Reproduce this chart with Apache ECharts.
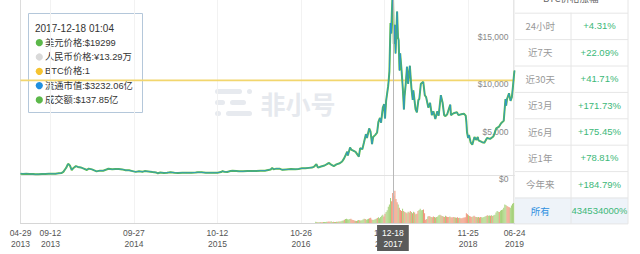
<!DOCTYPE html>
<html><head><meta charset="utf-8">
<script src="https://cdn.jsdelivr.net/npm/echarts@6/dist/echarts.min.js"></script>
<style>html,body{margin:0;padding:0;background:#fff}#c{width:640px;height:254px}</style>
</head><body><div id="c"></div>
<script>
// ---------- DATA ----------
const priceDates = [
'2013-04-29','2013-05-10','2013-05-25','2013-06-10','2013-06-25','2013-07-06','2013-07-20','2013-08-05','2013-08-20','2013-09-05',
'2013-09-20','2013-10-05','2013-10-20','2013-11-01','2013-11-10','2013-11-18','2013-11-24','2013-11-30','2013-12-04','2013-12-10',
'2013-12-18','2013-12-26','2014-01-06','2014-01-15','2014-01-28','2014-02-08','2014-02-25','2014-03-05','2014-03-20','2014-04-10',
'2014-04-25','2014-05-10','2014-05-25','2014-06-03','2014-06-20','2014-07-05','2014-07-20','2014-08-05','2014-08-20','2014-09-05',
'2014-09-20','2014-10-05','2014-10-20','2014-11-05','2014-11-15','2014-12-01','2014-12-20','2015-01-05','2015-01-14','2015-01-25',
'2015-02-10','2015-02-25','2015-03-12','2015-03-30','2015-04-15','2015-05-05','2015-05-25','2015-06-15','2015-07-05','2015-07-15',
'2015-08-01','2015-08-20','2015-09-05','2015-09-25','2015-10-12','2015-10-28','2015-11-04','2015-11-12','2015-11-25','2015-12-10',
'2015-12-20','2016-01-05','2016-01-18','2016-02-05','2016-02-25','2016-03-15','2016-04-05','2016-04-25','2016-05-15','2016-05-30',
'2016-06-10','2016-06-17','2016-06-23','2016-07-05','2016-07-20','2016-08-02','2016-08-20','2016-09-10','2016-09-30','2016-10-15',
'2016-10-30','2016-11-15','2016-12-01','2016-12-15','2016-12-25','2017-01-04','2017-01-11','2017-01-25','2017-02-10','2017-02-23',
'2017-03-03','2017-03-10','2017-03-24','2017-04-05','2017-04-20','2017-05-01','2017-05-10','2017-05-24','2017-05-27','2017-06-06',
'2017-06-12','2017-06-18','2017-07-01','2017-07-16','2017-07-22','2017-08-01','2017-08-08','2017-08-17','2017-08-22','2017-09-01',
'2017-09-07','2017-09-14','2017-09-19','2017-09-28','2017-10-07','2017-10-13','2017-10-20','2017-10-25','2017-11-02','2017-11-08',
'2017-11-12','2017-11-17','2017-11-26','2017-11-29','2017-12-02','2017-12-07','2017-12-10','2017-12-13','2017-12-17','2017-12-18',
'2017-12-22','2017-12-26','2017-12-30','2018-01-06','2018-01-10','2018-01-13','2018-01-17','2018-01-20','2018-01-26','2018-02-01',
'2018-02-06','2018-02-09','2018-02-14','2018-02-20','2018-02-25','2018-03-05','2018-03-12','2018-03-18','2018-03-21','2018-03-31',
'2018-04-06','2018-04-13','2018-04-17','2018-04-24','2018-05-05','2018-05-12','2018-05-18','2018-05-28','2018-06-05','2018-06-13',
'2018-06-20','2018-06-29','2018-07-08','2018-07-14','2018-07-24','2018-08-01','2018-08-08','2018-08-14','2018-08-22','2018-08-30',
'2018-09-05','2018-09-08','2018-09-20','2018-10-05','2018-10-12','2018-10-25','2018-11-06','2018-11-14','2018-11-17','2018-11-20',
'2018-11-25','2018-11-29','2018-12-07','2018-12-14','2018-12-24','2018-12-31','2019-01-08','2019-01-11','2019-01-28','2019-02-07',
'2019-02-19','2019-03-05','2019-03-20','2019-04-02','2019-04-15','2019-04-24','2019-05-06','2019-05-14','2019-05-17','2019-05-21',
'2019-05-30','2019-06-06','2019-06-12','2019-06-17','2019-06-22','2019-06-24'];
const priceValues = [
140,117,130,105,102,70,90,105,115,128,
126,122,180,205,330,600,800,1130,1150,980,
520,740,930,850,800,700,530,670,590,380,
460,450,575,660,595,630,625,590,510,490,
410,330,385,340,410,380,320,275,180,255,
220,240,295,245,220,240,240,235,270,290,
280,235,235,235,245,305,400,335,325,415,
440,430,385,385,425,415,420,460,455,530,
575,750,595,670,665,540,580,620,610,640,
700,715,750,780,890,1130,780,895,1000,1180,
1260,1110,935,1120,1230,1420,1750,2450,2050,2900,
2650,2600,2440,1930,2830,2720,3400,4300,3900,4900,
4600,3250,4000,4200,4450,5600,6000,5500,7100,7450,
5950,7800,9300,10000,10900,16000,14900,17000,19400,19299,
13800,15800,12800,17200,14500,14200,11000,12800,11100,9100,
6900,8300,9500,11400,9600,11500,9200,7900,8900,6900,
6600,7900,8000,9600,9800,8400,8200,7100,7600,6300,
6700,5900,6700,6250,8400,7600,6300,6200,6400,7000,
7400,6300,6500,6600,6300,6400,6450,6250,5600,4500,
3900,4200,3400,3200,4000,3700,4000,3650,3450,3400,
3900,3800,4050,4900,5100,5450,5700,8000,7300,8000,
8600,7800,8200,9300,10600,11000];

// trading volume (亿 USD), one value every 5 days starting 2017-01-01
const volStart = '2017-01-01';
const volStepDays = 5;
const volValues = [
6,5,4,4,5,4,4,5,5,5,
6,6,7,6,8,5,6,5,5,6,
6,7,7,8,10,12,15,18,20,17,
16,18,19,15,14,12,10,9,12,14,
13,11,13,16,20,18,15,17,19,22,
24,16,14,15,17,20,23,26,22,27,
33,38,30,42,50,58,75,85,115,100,
138,125,148,110,95,85,70,60,55,65,
55,50,48,45,52,48,55,50,45,52,
48,40,42,55,60,65,58,60,62,45,
15,18,30,32,30,28,26,30,28,25,
28,30,35,38,34,32,30,28,33,30,
28,27,30,26,25,28,26,25,24,26,
23,24,22,22,24,25,26,45,40,35,
32,30,28,30,33,29,27,26,28,25,
27,26,25,28,30,32,35,33,34,33,
35,32,36,38,48,55,52,50,56,60,
62,70,85,82,78,75,72,70,80,88,
92];
// u = price up, d = price down for each volume bar
const volDirs =
'uuduudduuu'+'uddduuduud'+'uuduuuduuu'+'uudddduduu'+'duuuuduuud'+
'dduuuuduuu'+'uudduuuuud'+'dddddudddu'+'dudduddudu'+'dudduuuudd'+
'ddudduddud'+'uuuududdud'+'ddudddudud'+'dudddddddu'+'ddduddudud'+
'duuuuuduud'+'uduuuuuduu'+'uuuuddduuu'+'u';

const btcRatio = 1;
const axisLabelDates = ['2013-04-29','2013-09-12','2014-09-27','2015-10-12','2016-10-26','2017-11-10','2018-11-25','2019-06-24'];
const rangeStart = '2013-04-29', rangeEnd = '2019-06-24';
const pointerDate = '2017-12-18';
const priceAxis = {min: 0, max: 18421, interval: 5000};
const volAxisMax = 220;

const tipTitle = '2017-12-18 01:04';
const tipRows = ['美元价格:$19299','人民币价格:¥13.29万','BTC价格:1','流通市值:$3232.06亿','成交额:$137.85亿'];

const tableTitle = 'BTC价格涨幅';
const periodLabels = ['24小时','近7天','近30天','近3月','近6月','近1年','今年来','所有'];
const periodChanges = ['+4.31%','+22.09%','+41.71%','+171.73%','+175.45%','+78.81%','+184.79%','434534000%'];
const watermarkText = '非小号';

// ---------- BUILD ----------
function ts(s){const p=s.split('-').map(Number);return new Date(p[0],p[1]-1,p[2]).getTime();}
const DAY = 86400000;
const nP = Math.min(priceDates.length, priceValues.length);
const priceData = [];
for (let i=0;i<nP;i++) priceData.push([ts(priceDates[i]), priceValues[i]]);
const volData = volValues.map((v,i)=>({
  value:[ts(volStart)+i*volStepDays*DAY, v],
  itemStyle:{color: volDirs[i]==='d' ? '#ef9479' : '#a6d27a'}
}));
const labelTs = axisLabelDates.map(ts);
const t0 = ts(rangeStart), t1 = ts(rangeEnd), tp = ts(pointerDate);
const pad = n => (n<10?'0':'')+n;
const fmtDate = v => {const d=new Date(v);return pad(d.getMonth()+1)+'-'+pad(d.getDate())+'\n'+d.getFullYear();};
const FONT = "'Liberation Sans','Noto Sans CJK SC',sans-serif";
const CJK = "'Noto Sans CJK SC','Liberation Sans',sans-serif";

const GL = 20.5, GW = 494;

// graphics
const G = [];
G.push({type:'group', z:0, silent:true, children:[
  {type:'rect', shape:{x:215,y:89,width:27,height:5,r:2.5}, style:{fill:'#e7eaef'}},
  {type:'rect', shape:{x:247,y:89,width:5,height:5,r:2.5}, style:{fill:'#e7eaef'}},
  {type:'rect', shape:{x:215,y:100,width:10,height:5,r:2.5}, style:{fill:'#e7eaef'}},
  {type:'rect', shape:{x:230,y:100,width:16,height:5,r:2.5}, style:{fill:'#e7eaef'}},
  {type:'rect', shape:{x:215,y:111,width:6,height:5,r:2.5}, style:{fill:'#e7eaef'}},
  {type:'rect', shape:{x:226,y:111,width:26,height:5,r:2.5}, style:{fill:'#e7eaef'}},
  {type:'text', style:{text:watermarkText, x:298, y:103, align:'center', verticalAlign:'middle', fontSize:25, fontWeight:'bold', fill:'#e6e9ee', fontFamily:CJK}}
]});
const tipDots = ['#5cb84a','#d9d9d9','#f5c330','#1f8fe0','#5cb84a'];
const tipChildren = [
  {type:'rect', shape:{x:28.5,y:13.5,width:114,height:99}, style:{fill:'#fff', stroke:'#b4c7da', lineWidth:1}},
  {type:'text', style:{text:tipTitle, x:35, y:28, verticalAlign:'middle', fontSize:10, fill:'#333', fontFamily:FONT}}
];
tipRows.forEach((t,i)=>{
  const cy = 42.7 + i*14.3;
  tipChildren.push({type:'circle', shape:{cx:39.3, cy:cy, r:3.6}, style:{fill:tipDots[i]}});
  tipChildren.push({type:'text', style:{text:t, x:45, y:cy, verticalAlign:'middle', fontSize:9.3, fill:'#333', fontFamily:FONT}});
});
G.push({type:'group', z:100, silent:true, children:tipChildren});
const TX0=513.5, TX1=571, TX2=628, TY0=12.7, RH=26.4, TB=TY0+RH*periodLabels.length;
const tab = [
  {type:'rect', shape:{x:TX0,y:-20,width:640-TX0,height:TB+20}, style:{fill:'#fff'}},
  {type:'text', style:{text:tableTitle, x:(TX0+TX2)/2, y:-2, align:'center', verticalAlign:'middle', fontSize:9.5, fill:'#666', fontFamily:CJK}}
];
periodLabels.forEach((lab,i)=>{
  const y = TY0 + i*RH;
  const last = i===periodLabels.length-1;
  if (last) tab.push({type:'rect', shape:{x:TX0,y:y,width:TX2-TX0,height:RH}, style:{fill:'#eef3f9'}});
  tab.push({type:'line', shape:{x1:TX0,y1:y+0.5,x2:TX2,y2:y+0.5}, style:{stroke:'#e6e6e6', lineWidth:1}});
  tab.push({type:'text', style:{text:lab, x:(TX0+TX1)/2-2, y:y+RH/2, align:'center', verticalAlign:'middle', fontSize:9.5, fill:last?'#2f8fe0':'#999', fontFamily:CJK}});
  tab.push({type:'text', style:{text:periodChanges[i], x:(TX1+TX2)/2, y:y+RH/2, align:'center', verticalAlign:'middle', fontSize:9.5, fill:'#3cb878', fontFamily:FONT}});
});
tab.push({type:'line', shape:{x1:TX0,y1:TB,x2:TX2,y2:TB}, style:{stroke:'#e6e6e6', lineWidth:1}});
tab.push({type:'line', shape:{x1:TX0,y1:-20,x2:TX0,y2:TB}, style:{stroke:'#e6e6e6', lineWidth:1}});
tab.push({type:'line', shape:{x1:TX1,y1:TY0,x2:TX1,y2:TB}, style:{stroke:'#e6e6e6', lineWidth:1}});
tab.push({type:'line', shape:{x1:TX2,y1:-20,x2:TX2,y2:TB}, style:{stroke:'#e6e6e6', lineWidth:1}});
G.push({type:'group', z:100, silent:true, children:tab});

const xBase = {
  type:'value', min:t0, max:t1, scale:true,
  axisLine:{show:true, onZero:false, lineStyle:{color:'#e2e2e2'}},
  axisTick:{show:false, customValues:labelTs},
  splitLine:{show:true, lineStyle:{color:'#f2f2f2', width:1}}
};
const chart = echarts.init(document.getElementById('c'), null, {renderer:'svg'});
chart.setOption({
  animation:false,
  backgroundColor:'#fff',
  grid:[
    {left:GL, top:0, width:GW, height:175},
    {left:GL, top:175, width:GW, height:48}
  ],
  xAxis:[
    Object.assign({}, xBase, {gridIndex:0, axisLabel:{show:false}}),
    Object.assign({}, xBase, {gridIndex:1, axisLine:{show:true,onZero:false,lineStyle:{color:'#d6d6d6'}},
      axisLabel:{show:true, customValues:labelTs, margin:4, fontSize:8.5, lineHeight:11, color:'#555', fontFamily:FONT,
        formatter:fmtDate}})
  ],
  yAxis:[
    {type:'value', gridIndex:0, position:'right', min:priceAxis.min, max:priceAxis.max, interval:priceAxis.interval,
      axisLine:{show:false}, axisTick:{show:false}, splitLine:{show:false},
      axisLabel:{inside:true, margin:6, verticalAlign:'top', showMaxLabel:false, fontSize:8.5, color:'#888', fontFamily:FONT,
        formatter:v=>'$'+Number(v).toLocaleString('en-US')}},
    {type:'value', gridIndex:0, position:'left', min:0, max:1.85,
      axisLine:{show:true, onZero:false, lineStyle:{color:'#dcdcdc'}}, axisTick:{show:false}, axisLabel:{show:false}, splitLine:{show:false}},
    {type:'value', gridIndex:1, position:'left', min:0, max:volAxisMax,
      axisLine:{show:true, onZero:false, lineStyle:{color:'#dcdcdc'}}, axisTick:{show:false}, axisLabel:{show:false}, splitLine:{show:false}}
  ],
  graphic:G,
  series:[
    {name:'BTC价格', type:'line', xAxisIndex:0, yAxisIndex:1, data:[[t0,btcRatio],[t1,btcRatio]],
      showSymbol:false, silent:true, lineStyle:{color:'#f2d66e', width:1.6}, z:1},
    {name:'美元价格', type:'line', xAxisIndex:0, yAxisIndex:0, data:priceData, showSymbol:false, silent:true,
      lineStyle:{color:'#62c03f', width:2}, z:2,
      markLine:{silent:true, symbol:'none', label:{show:false}, lineStyle:{color:'#b8b8b8', width:1, type:'solid'}, data:[{xAxis:tp}]}},
    {name:'流通市值', type:'line', xAxisIndex:0, yAxisIndex:0, data:priceData, showSymbol:false, silent:true,
      lineStyle:{color:'#2490dc', width:1, opacity:0.8}, z:3},
    {name:'成交额', type:'bar', xAxisIndex:1, yAxisIndex:2, data:volData, barWidth:1, silent:true, z:2,
      markLine:{silent:true, symbol:'none', lineStyle:{color:'#b8b8b8', width:1, type:'solid'},
        label:{show:true, position:'start', distance:2, backgroundColor:'#5a5a5a', color:'#fff', padding:[2,5],
          fontSize:8.5, lineHeight:11, fontFamily:FONT, formatter:()=>fmtDate(tp)},
        data:[{xAxis:tp}]}}
  ]
});
</script></body></html>
